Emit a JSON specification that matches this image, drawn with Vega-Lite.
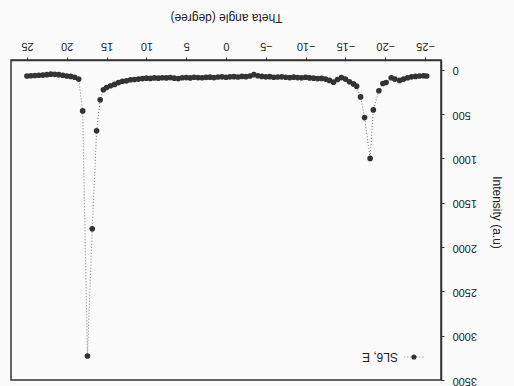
{
  "$schema": "https://vega.github.io/schema/vega-lite/v6.json",
  "width": 430,
  "height": 320,
  "autosize": "none",
  "padding": {"left": 11, "top": 60, "right": 73, "bottom": 6},
  "background": "#fbfbfb",
  "view": {"stroke": "#333333", "strokeWidth": 1.5},
  "config": {
    "font": "Liberation Sans",
    "axis": {"grid": false, "domain": true, "domainColor": "#333333", "domainWidth": 1.5, "tickColor": "#333333", "tickSize": 3, "labelColor": "#222222", "titleColor": "#222222", "labelFontSize": 11, "titleFontSize": 12, "titleFontWeight": "normal"}
  },
  "datasets": {
    "scan": [
      {"theta": 25, "intensity": 70}, {"theta": 24.5, "intensity": 68}, {"theta": 24, "intensity": 65},
      {"theta": 23.5, "intensity": 62}, {"theta": 23, "intensity": 60}, {"theta": 22.5, "intensity": 55},
      {"theta": 22, "intensity": 50}, {"theta": 21.5, "intensity": 52}, {"theta": 21, "intensity": 55},
      {"theta": 20.5, "intensity": 62}, {"theta": 20, "intensity": 70}, {"theta": 19.5, "intensity": 75},
      {"theta": 19, "intensity": 85}, {"theta": 18.5, "intensity": 105}, {"theta": 18.0, "intensity": 464},
      {"theta": 17.4, "intensity": 3229}, {"theta": 16.8, "intensity": 1795}, {"theta": 16.25, "intensity": 689},
      {"theta": 15.8, "intensity": 339}, {"theta": 15.4, "intensity": 226}, {"theta": 15.0, "intensity": 200},
      {"theta": 14.5, "intensity": 180}, {"theta": 14.0, "intensity": 165}, {"theta": 13.5, "intensity": 145},
      {"theta": 13.0, "intensity": 130}, {"theta": 12.5, "intensity": 125}, {"theta": 12.0, "intensity": 113},
      {"theta": 11.5, "intensity": 110}, {"theta": 11.0, "intensity": 105}, {"theta": 10.5, "intensity": 100},
      {"theta": 10.0, "intensity": 95}, {"theta": 9.5, "intensity": 98}, {"theta": 9.0, "intensity": 92},
      {"theta": 8.5, "intensity": 95}, {"theta": 8.0, "intensity": 90}, {"theta": 7.5, "intensity": 92},
      {"theta": 7.0, "intensity": 88}, {"theta": 6.5, "intensity": 95}, {"theta": 6.0, "intensity": 100},
      {"theta": 5.5, "intensity": 90}, {"theta": 5.0, "intensity": 88}, {"theta": 4.5, "intensity": 92},
      {"theta": 4.0, "intensity": 85}, {"theta": 3.5, "intensity": 88}, {"theta": 3.0, "intensity": 90},
      {"theta": 2.5, "intensity": 86}, {"theta": 2.0, "intensity": 84}, {"theta": 1.5, "intensity": 88},
      {"theta": 1.0, "intensity": 82}, {"theta": 0.5, "intensity": 80}, {"theta": 0.0, "intensity": 85},
      {"theta": -0.5, "intensity": 80}, {"theta": -1.0, "intensity": 78}, {"theta": -1.5, "intensity": 82},
      {"theta": -2.0, "intensity": 75}, {"theta": -2.5, "intensity": 78}, {"theta": -3.0, "intensity": 70},
      {"theta": -3.5, "intensity": 55}, {"theta": -4.0, "intensity": 68}, {"theta": -4.5, "intensity": 75},
      {"theta": -5.0, "intensity": 80}, {"theta": -5.5, "intensity": 78}, {"theta": -6.0, "intensity": 85},
      {"theta": -6.5, "intensity": 82}, {"theta": -7.0, "intensity": 80}, {"theta": -7.5, "intensity": 85},
      {"theta": -8.0, "intensity": 88}, {"theta": -8.5, "intensity": 84}, {"theta": -9.0, "intensity": 88},
      {"theta": -9.5, "intensity": 90}, {"theta": -10.0, "intensity": 85}, {"theta": -10.5, "intensity": 92},
      {"theta": -11.0, "intensity": 95}, {"theta": -11.5, "intensity": 100}, {"theta": -12.0, "intensity": 98},
      {"theta": -12.5, "intensity": 105}, {"theta": -13.0, "intensity": 120}, {"theta": -13.5, "intensity": 140},
      {"theta": -14.0, "intensity": 110}, {"theta": -14.5, "intensity": 88}, {"theta": -15.0, "intensity": 105},
      {"theta": -15.5, "intensity": 135}, {"theta": -16.0, "intensity": 160}, {"theta": -16.4, "intensity": 185},
      {"theta": -16.9, "intensity": 306}, {"theta": -17.4, "intensity": 540}, {"theta": -18.1, "intensity": 1000},
      {"theta": -18.5, "intensity": 453}, {"theta": -19.2, "intensity": 237}, {"theta": -19.7, "intensity": 155},
      {"theta": -20.1, "intensity": 144}, {"theta": -20.75, "intensity": 90}, {"theta": -21.2, "intensity": 105},
      {"theta": -21.8, "intensity": 120}, {"theta": -22.3, "intensity": 105}, {"theta": -22.8, "intensity": 90},
      {"theta": -23.3, "intensity": 80}, {"theta": -23.8, "intensity": 75}, {"theta": -24.3, "intensity": 70},
      {"theta": -24.8, "intensity": 68}, {"theta": -25.2, "intensity": 70}
    ],
    "legend": [{"series": "SL6, E"}]
  },
  "layer": [
    {
      "data": {"name": "scan"},
      "mark": {"type": "line", "color": "#777777", "strokeWidth": 1, "strokeDash": [1, 2]},
      "encoding": {
        "x": {"field": "theta", "type": "quantitative", "scale": {"domain": [-27, 27], "reverse": true, "nice": false},
          "axis": {"orient": "top", "values": [-25, -20, -15, -10, -5, 0, 5, 10, 15, 20, 25], "labelAngle": 180, "labelBaseline": "top", "labelAlign": "center", "labelPadding": 6,
            "title": "Theta angle (degree)", "titleAngle": 180, "titleBaseline": "top", "titleAlign": "center", "titleX": 215, "titleY": -38}},
        "y": {"field": "intensity", "type": "quantitative", "scale": {"domain": [-110, 3500], "reverse": true, "nice": false, "zero": false},
          "axis": {"orient": "right", "values": [0, 500, 1000, 1500, 2000, 2500, 3000, 3500], "format": "d", "labelAngle": 180, "labelAlign": "right", "labelBaseline": "middle", "labelPadding": 8,
            "title": "Intensity (a.u)", "titleAngle": 90, "titleAlign": "center", "titleBaseline": "middle", "titleX": 55, "titleY": 152}},
        "order": {"field": "theta", "sort": "descending"}
      }
    },
    {
      "data": {"name": "scan"},
      "mark": {"type": "point", "filled": true, "color": "#333333", "opacity": 1, "size": 32},
      "encoding": {
        "x": {"field": "theta", "type": "quantitative"},
        "y": {"field": "intensity", "type": "quantitative"}
      }
    },
    {
      "data": {"name": "legend"},
      "mark": {"type": "rule", "color": "#777777", "strokeWidth": 1, "strokeDash": [1, 2]},
      "encoding": {
        "x": {"datum": -22.4},
        "x2": {"datum": -25.0},
        "y": {"datum": 3240}
      }
    },
    {
      "data": {"name": "legend"},
      "mark": {"type": "point", "filled": true, "color": "#333333", "opacity": 1, "size": 26},
      "encoding": {
        "x": {"datum": -23.6},
        "y": {"datum": 3240}
      }
    },
    {
      "data": {"name": "legend"},
      "mark": {"type": "text", "angle": 180, "align": "left", "baseline": "middle", "fontSize": 12, "color": "#222222"},
      "encoding": {
        "x": {"datum": -21.6},
        "y": {"datum": 3240},
        "text": {"field": "series"}
      }
    }
  ]
}
